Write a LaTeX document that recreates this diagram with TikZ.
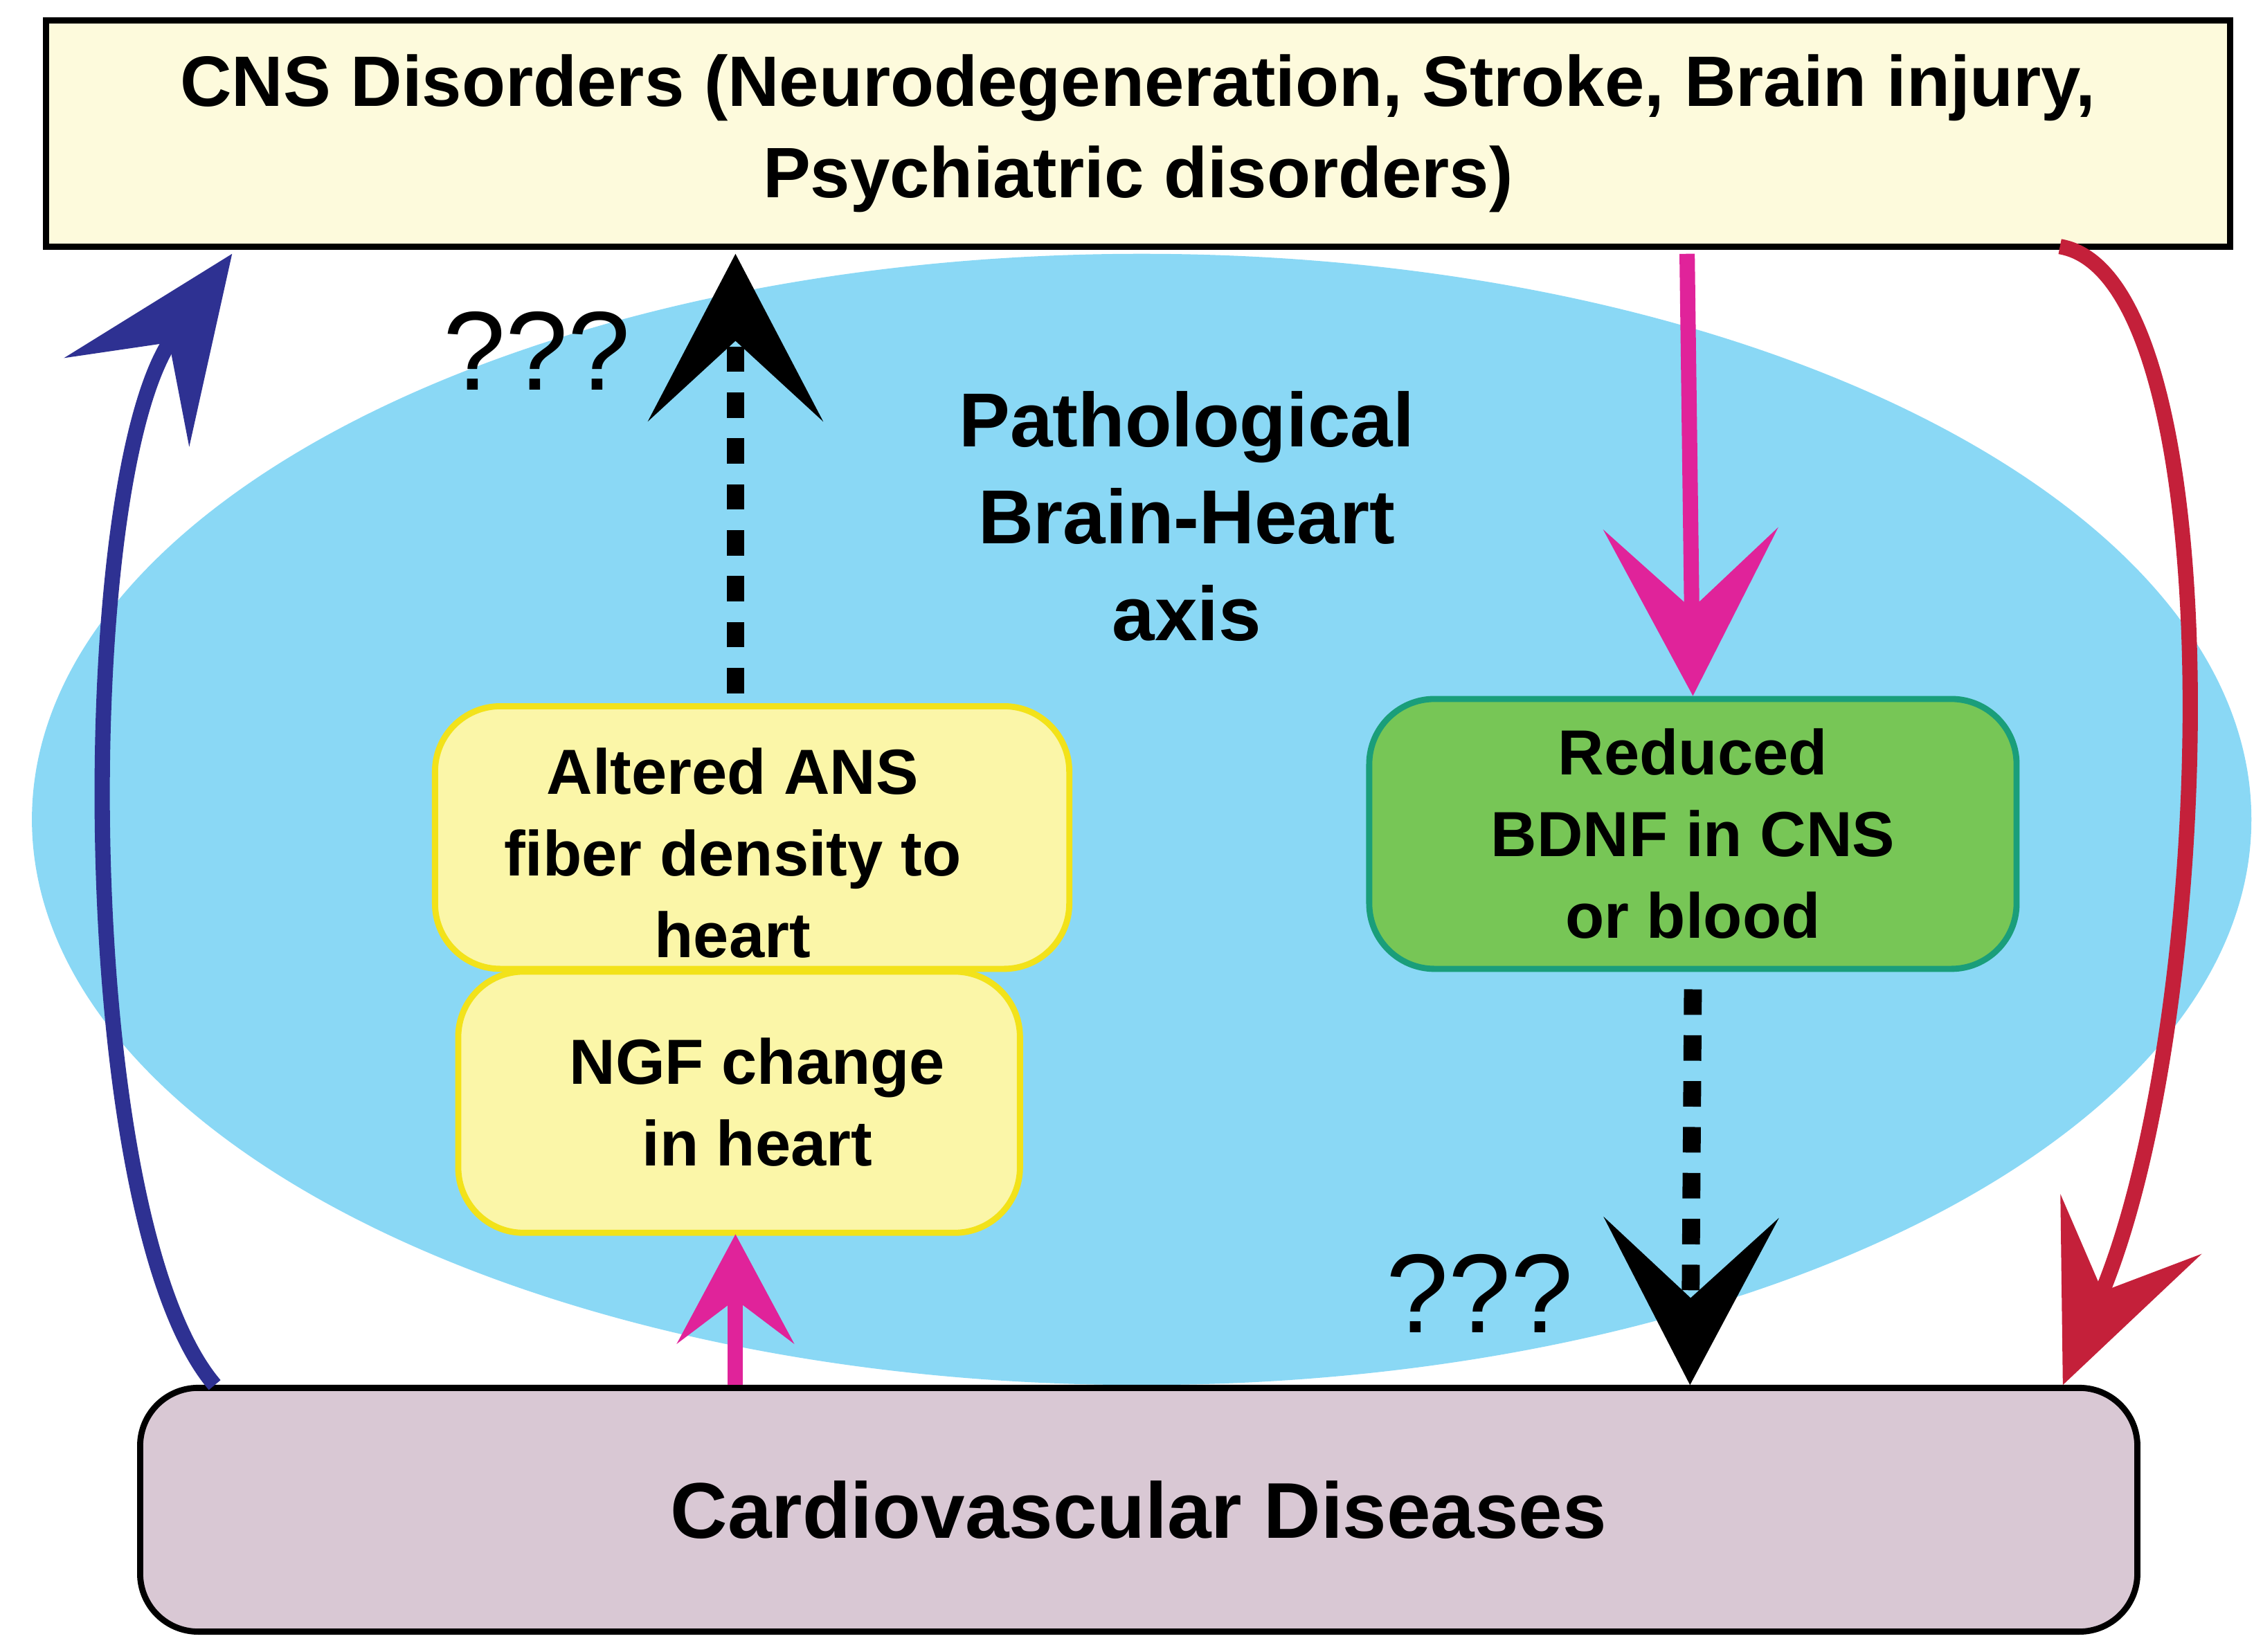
\documentclass[tikz,border=0pt]{standalone}
\usepackage{fontspec}
\setmainfont{Liberation Sans}
\usetikzlibrary{arrows.meta}
\definecolor{topfill}{HTML}{FDFADC}
\definecolor{sky}{HTML}{8AD8F5}
\definecolor{cvd}{HTML}{D9C8D4}
\definecolor{yfill}{HTML}{FBF6A8}
\definecolor{yline}{HTML}{F2E21A}
\definecolor{gfill}{HTML}{77C656}
\definecolor{gline}{HTML}{1A9E7A}
\definecolor{mag}{HTML}{E0239A}
\definecolor{navy}{HTML}{2E3192}
\definecolor{crim}{HTML}{C4203A}
\begin{document}
\begin{tikzpicture}[x=0.01cm,y=-0.01cm,
  txt/.style={font=\bfseries\fontsize{12.5}{16}\selectfont,align=center},
  ybox/.style={draw=yline,fill=yfill,line width=1.2pt,rounded corners=0.45cm},
  big/.style={-{Stealth[length=1.15cm,width=1.2cm,inset=0.55cm]}},
  dots/.style={line width=3.5pt,dash pattern=on 5pt off 4pt},
  q/.style={font=\fontsize{22}{24}\selectfont}]
\useasboundingbox (0,0) rectangle (1560,1139);
\fill[sky] (787,565) ellipse [x radius=765, y radius=390];
\node[draw,fill=topfill,line width=1.2pt,minimum width=15.05cm,minimum height=1.56cm,txt,font=\bfseries\fontsize{14}{18}\selectfont] (cns) at (784.5,92) {CNS Disorders (Neurodegeneration, Stroke, Brain injury,\\Psychiatric disorders)};
\node[draw,fill=cvd,line width=1.2pt,rounded corners=0.4cm,minimum width=13.76cm,minimum height=1.68cm,font=\bfseries\fontsize{15.5}{18}\selectfont] (cvd) at (785,1041) {Cardiovascular Diseases};
\node[ybox,minimum width=4.37cm,minimum height=1.81cm] (ans) at (518.5,577.5) {};
\node[txt] at (505,588) {Altered ANS\\fiber density to\\heart};
\node[ybox,minimum width=3.87cm,minimum height=1.8cm] (ngf) at (509.5,760) {};
\node[txt] at (522,760) {NGF change\\in heart};
\node[draw=gline,fill=gfill,line width=1.2pt,rounded corners=0.45cm,minimum width=4.46cm,minimum height=1.86cm,txt] (bdnf) at (1167,575) {Reduced\\BDNF in CNS\\or blood};
\node[font=\bfseries\fontsize{15}{19}\selectfont,align=center] (axis) at (818,356) {Pathological\\Brain-Heart\\axis};
\node[q] (q1) at (370,242) {???};
\node[q] (q2) at (1020,892) {???};
\coordinate (bl) at (148,955); \coordinate (tl) at (160,175);
\draw[navy,line width=3pt,-{Stealth[length=1.25cm,width=1.05cm,inset=0.5cm]}] (bl) .. controls (50,840) and (50,330) .. (tl);
\coordinate (tr) at (1420,170); \coordinate (br) at (1422,955);
\draw[crim,line width=3pt,-{Stealth[length=1.2cm,width=1.05cm,inset=0.5cm]}] (tr) .. controls (1540,190) and (1530,700) .. (br);
\draw[mag,line width=3pt,big] (1163,175) -- (bdnf.north);
\draw[dots,big] (507,478) -- (507,175);
\draw[dots,big] (bdnf.south) ++(0,12) -- (1165,955);
\draw[mag,line width=3pt,-{Stealth[length=0.75cm,width=0.8cm,inset=0.3cm]}] (507,955) -- (507,851);
\end{tikzpicture}
\end{document}
